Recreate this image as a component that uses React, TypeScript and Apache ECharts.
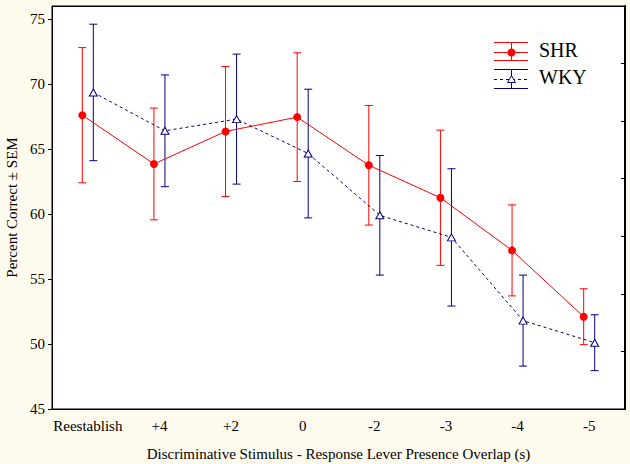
import React, { useEffect, useRef } from "react";
import * as echarts from "echarts";

const categories = ["Reestablish", "+4", "+2", "0", "-2", "-3", "-4", "-5"];
const shrMean = [67.6, 63.85, 66.35, 67.45, 63.75, 61.25, 57.2, 52.1];
const shrSem = [5.2, 4.3, 5.0, 4.95, 4.6, 5.2, 3.5, 2.15];
const wkyMean = [69.35, 66.4, 67.3, 64.65, 59.9, 58.2, 51.8, 50.1];
const wkySem = [5.25, 4.3, 5.0, 4.95, 4.6, 5.28, 3.5, 2.15];
const yTicks = [45, 50, 55, 60, 65, 70, 75];

const FONT = '"Liberation Serif", "Times New Roman", serif';
const RED = "#ff0000";
const BLUE = "#000080";
const OFFSET = 0.077; // horizontal offset of each group from the category centre

export default function App() {
  const ref = useRef<HTMLDivElement>(null);
  useEffect(() => {
    if (!ref.current) return;
    const chart = echarts.init(ref.current, null, { renderer: "svg" });

    const errData = (mean: number[], sem: number[], off: number) =>
      mean.map((m, i) => [i + off, m - sem[i], m + sem[i]]);

    const errSeries = (mean: number[], sem: number[], off: number, color: string) => ({
      type: "custom",
      xAxisIndex: 2,
      yAxisIndex: 0,
      z: 2,
      silent: true,
      data: errData(mean, sem, off),
      renderItem: (params: any, api: any) => {
        const x = api.value(0);
        const lo = api.coord([x, api.value(1)]);
        const hi = api.coord([x, api.value(2)]);
        const hw = 4;
        const style = { stroke: color, lineWidth: 1 };
        return {
          type: "group",
          children: [
            { type: "line", shape: { x1: lo[0], y1: lo[1], x2: hi[0], y2: hi[1] }, style },
            { type: "line", shape: { x1: hi[0] - hw, y1: hi[1], x2: hi[0] + hw, y2: hi[1] }, style },
            { type: "line", shape: { x1: lo[0] - hw, y1: lo[1], x2: lo[0] + hw, y2: lo[1] }, style },
          ],
        };
      },
    });

    const textStyle = { color: "#000", fontFamily: FONT, fontSize: 15 };

    chart.setOption({
      animation: false,
      backgroundColor: "#fffaee",
      grid: {
        left: 52,
        right: 5,
        top: 6,
        bottom: 55,
        containLabel: false,
        outerBoundsMode: "none",
        show: true,
        backgroundColor: "#ffffff",
        borderWidth: 1,
        borderColor: "#000",
      },
      xAxis: [
        {
          type: "category",
          position: "bottom",
          data: categories,
          boundaryGap: true,
          axisLine: { onZero: false, lineStyle: { color: "#000", width: 1 } },
          axisTick: { alignWithLabel: true, inside: true, length: 4, lineStyle: { color: "#000" } },
          axisLabel: { ...textStyle, margin: 9, interval: 0 },
          name: "Discriminative Stimulus - Response Lever Presence Overlap (s)",
          nameLocation: "middle",
          nameGap: 37,
          nameTextStyle: textStyle,
        },
        {
          type: "category",
          position: "top",
          data: categories,
          boundaryGap: true,
          axisLine: { onZero: false, lineStyle: { color: "#000", width: 1 } },
          axisTick: { alignWithLabel: true, inside: true, length: 4, lineStyle: { color: "#000" } },
          axisLabel: { show: false },
        },
        {
          type: "value",
          min: -0.5,
          max: categories.length - 0.5,
          show: false,
        },
      ],
      yAxis: [
        {
          type: "value",
          position: "left",
          min: 45,
          max: 76,
          interval: 5,
          splitLine: { show: false },
          axisLine: { show: true, onZero: false, lineStyle: { color: "#000", width: 1 } },
          axisTick: { show: true, inside: false, length: 4, customValues: yTicks, lineStyle: { color: "#000" } },
          axisLabel: { ...textStyle, margin: 7, customValues: yTicks },
          name: "Percent Correct ± SEM",
          nameLocation: "middle",
          nameGap: 33,
          nameTextStyle: textStyle,
        },
        {
          type: "value",
          position: "right",
          min: 0,
          max: 7,
          interval: 1,
          splitLine: { show: false },
          axisLine: { show: true, onZero: false, lineStyle: { color: "#000", width: 2 } },
          axisTick: { show: true, inside: true, length: 4, lineStyle: { color: "#000" } },
          axisLabel: { show: false },
        },
      ],
      series: [
        errSeries(shrMean, shrSem, -OFFSET, RED),
        errSeries(wkyMean, wkySem, OFFSET, BLUE),
        {
          name: "SHR",
          type: "line",
          xAxisIndex: 2,
          yAxisIndex: 0,
          z: 3,
          data: shrMean.map((m, i) => [i - OFFSET, m]),
          symbol: "circle",
          symbolSize: 8,
          itemStyle: { color: RED, borderColor: RED, borderWidth: 0 },
          lineStyle: { color: RED, width: 1 },
        },
        {
          name: "WKY",
          type: "line",
          xAxisIndex: 2,
          yAxisIndex: 0,
          z: 3,
          data: wkyMean.map((m, i) => [i + OFFSET, m]),
          symbol: "triangle",
          symbolSize: [8, 7],
          itemStyle: { color: "#ffffff", borderColor: BLUE, borderWidth: 1 },
          lineStyle: { color: BLUE, width: 1, type: [3, 3] },
        },
      ],
      graphic: [
        // SHR legend
        { type: "line", shape: { x1: 494, y1: 42.5, x2: 528, y2: 42.5 }, style: { stroke: RED, lineWidth: 1 } },
        { type: "line", shape: { x1: 494, y1: 52.5, x2: 528, y2: 52.5 }, style: { stroke: RED, lineWidth: 1 } },
        { type: "line", shape: { x1: 494, y1: 60.5, x2: 528, y2: 60.5 }, style: { stroke: RED, lineWidth: 1 } },
        { type: "line", shape: { x1: 511.5, y1: 42.5, x2: 511.5, y2: 60.5 }, style: { stroke: RED, lineWidth: 1 } },
        { type: "circle", shape: { cx: 511.5, cy: 52.5, r: 4 }, style: { fill: RED } },
        { type: "text", left: 539, top: 40, style: { text: "SHR", fill: "#000", font: `20px ${FONT}` } },
        // WKY legend
        { type: "line", shape: { x1: 494, y1: 69.5, x2: 528, y2: 69.5 }, style: { stroke: BLUE, lineWidth: 1 } },
        { type: "line", shape: { x1: 494, y1: 79.5, x2: 528, y2: 79.5 }, style: { stroke: BLUE, lineWidth: 1, lineDash: [3, 3] } },
        { type: "line", shape: { x1: 494, y1: 88.5, x2: 528, y2: 88.5 }, style: { stroke: BLUE, lineWidth: 1 } },
        { type: "line", shape: { x1: 511.5, y1: 69.5, x2: 511.5, y2: 88.5 }, style: { stroke: BLUE, lineWidth: 1 } },
        {
          type: "polygon",
          shape: { points: [[511.5, 75.5], [515.5, 82.5], [507.5, 82.5]] },
          style: { fill: "#ffffff", stroke: BLUE, lineWidth: 1 },
        },
        { type: "text", left: 539, top: 67, style: { text: "WKY", fill: "#000", font: `20px ${FONT}` } },
      ],
    });
    return () => chart.dispose();
  }, []);
  return (
    <div
      ref={ref}
      style={{ position: "fixed", left: 0, top: 0, width: 630, height: 464 }}
    />
  );
}
